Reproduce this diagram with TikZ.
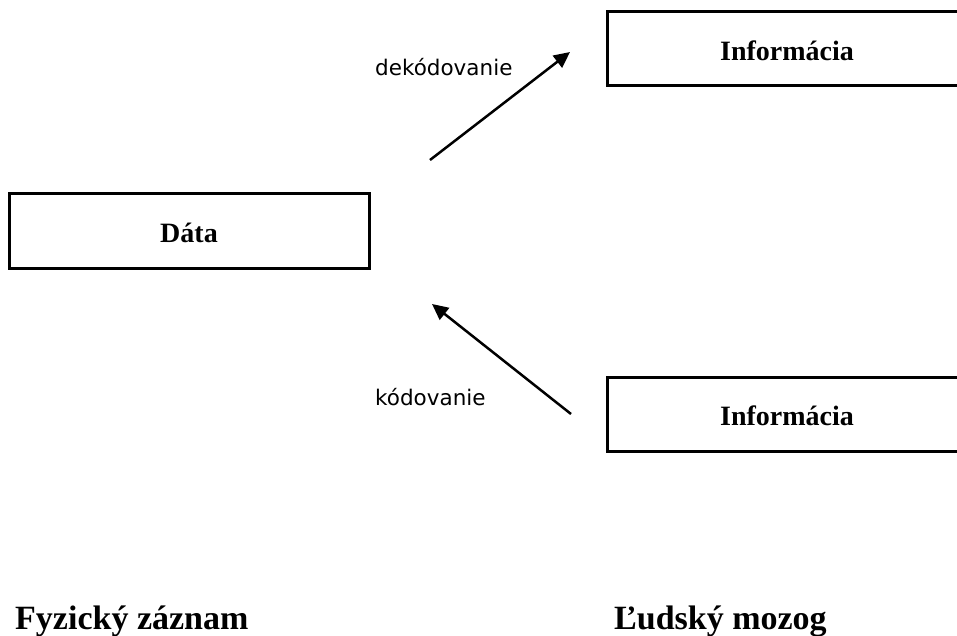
\documentclass[tikz,border=0pt]{standalone}
\usepackage{fontspec}
\setmainfont{Liberation Serif}
\newfontfamily\labelfont{DejaVu Sans}
\usetikzlibrary{arrows.meta}

\tikzset{
  box/.style={draw=black, line width=3pt, rectangle, inner sep=0pt,
    minimum height=74pt, text height=23pt, text depth=0pt,
    font=\fontsize{28}{30}\selectfont\bfseries},
  arrowline/.style={line width=2.5pt, -{Triangle[length=16pt,width=15pt]}},
  edgelabel/.style={inner sep=0pt, anchor=base west,
    font=\fontsize{21.5}{24}\labelfont},
  sidelabel/.style={inner sep=0pt, anchor=base west,
    font=\fontsize{34}{36}\selectfont\bfseries},
}

\begin{document}
\begin{tikzpicture}[x=1pt, y=-1pt]
  \useasboundingbox (0,0) rectangle (957,636);

  % boxes
  \node[box, minimum width=360pt] (data) at (189,231) {Dáta};
  \node[box, minimum width=360pt] (infotop) at (787,49) {Informácia};
  \node[box, minimum width=360pt] (infobot) at (787,414) {Informácia};

  % decoding / encoding arrows
  \coordinate (decA) at (430,160);
  \coordinate (decB) at (570,52);
  \coordinate (encA) at (571,414);
  \coordinate (encB) at (432,304);
  \draw[arrowline] (decA) -- (decB);
  \draw[arrowline] (encA) -- (encB);

  \node[edgelabel] (declabel) at (375,76) {dekódovanie};
  \node[edgelabel] (enclabel) at (375,405) {kódovanie};

  % side captions
  \node[sidelabel] (physical) at (15,629) {Fyzický záznam};
  \node[sidelabel] (brain) at (614,629) {Ľudský mozog};
\end{tikzpicture}
\end{document}
